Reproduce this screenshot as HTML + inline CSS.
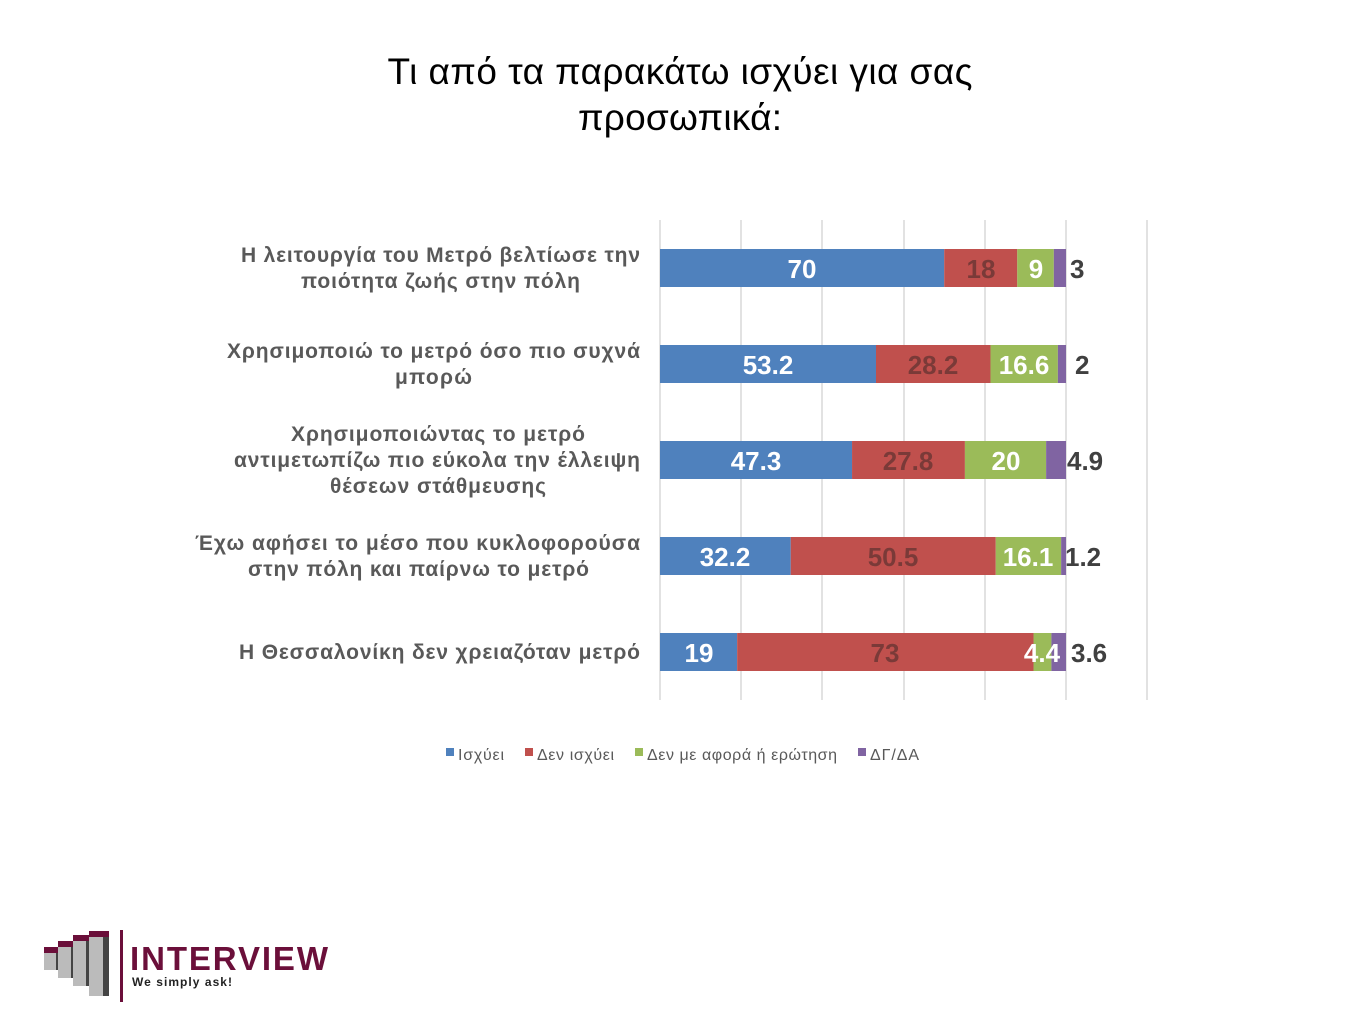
<!DOCTYPE html>
<html><head><meta charset="utf-8"><style>
body{margin:0;background:#fff;}
svg text{font-family:"Liberation Sans",sans-serif;}
</style></head><body>
<svg width="1360" height="1020" xmlns="http://www.w3.org/2000/svg">
<rect width="1360" height="1020" fill="#fff"/>
<text x="680" y="84" font-size="37" text-anchor="middle" fill="#000" textLength="585">Τι από τα παρακάτω ισχύει για σας</text>
<text x="680" y="130" font-size="37" text-anchor="middle" fill="#000" textLength="204">προσωπικά:</text>
<g stroke="#d9d9d9" stroke-width="1.5">
<line x1="660" y1="220" x2="660" y2="700"/><line x1="741" y1="220" x2="741" y2="700"/><line x1="822" y1="220" x2="822" y2="700"/><line x1="904" y1="220" x2="904" y2="700"/><line x1="985" y1="220" x2="985" y2="700"/><line x1="1066" y1="220" x2="1066" y2="700"/><line x1="1147" y1="220" x2="1147" y2="700"/>
</g>
<g>
<rect x="660" y="249" width="284.2" height="38" fill="#4F81BD"/><rect x="944.2" y="249" width="73.08" height="38" fill="#C0504D"/><rect x="1017.28" y="249" width="36.54" height="38" fill="#9BBB59"/><rect x="1053.82" y="249" width="12.18" height="38" fill="#8064A2"/>
<rect x="660" y="345" width="215.99" height="38" fill="#4F81BD"/><rect x="875.99" y="345" width="114.49" height="38" fill="#C0504D"/><rect x="990.48" y="345" width="67.4" height="38" fill="#9BBB59"/><rect x="1057.88" y="345" width="8.12" height="38" fill="#8064A2"/>
<rect x="660" y="441" width="192.04" height="38" fill="#4F81BD"/><rect x="852.04" y="441" width="112.87" height="38" fill="#C0504D"/><rect x="964.91" y="441" width="81.2" height="38" fill="#9BBB59"/><rect x="1046.11" y="441" width="19.89" height="38" fill="#8064A2"/>
<rect x="660" y="537" width="130.73" height="38" fill="#4F81BD"/><rect x="790.73" y="537" width="205.03" height="38" fill="#C0504D"/><rect x="995.76" y="537" width="65.37" height="38" fill="#9BBB59"/><rect x="1061.13" y="537" width="4.87" height="38" fill="#8064A2"/>
<rect x="660" y="633" width="77.14" height="38" fill="#4F81BD"/><rect x="737.14" y="633" width="296.38" height="38" fill="#C0504D"/><rect x="1033.52" y="633" width="17.86" height="38" fill="#9BBB59"/><rect x="1051.38" y="633" width="14.62" height="38" fill="#8064A2"/>
</g>
<g font-size="26" font-weight="bold" text-anchor="middle">
<text x="802" y="278" fill="#fff">70</text><text x="981" y="278" fill="#7a3a38">18</text><text x="1036" y="278" fill="#fff">9</text>
<text x="768" y="374" fill="#fff">53.2</text><text x="933" y="374" fill="#7a3a38">28.2</text><text x="1024" y="374" fill="#fff">16.6</text>
<text x="756" y="470" fill="#fff">47.3</text><text x="908" y="470" fill="#7a3a38">27.8</text><text x="1006" y="470" fill="#fff">20</text>
<text x="725" y="566" fill="#fff">32.2</text><text x="893" y="566" fill="#7a3a38">50.5</text><text x="1028" y="566" fill="#fff">16.1</text>
<text x="699" y="662" fill="#fff">19</text><text x="885" y="662" fill="#7a3a38">73</text><text x="1042" y="662" fill="#fff">4.4</text>
</g>
<g font-size="26" font-weight="bold" fill="#404040">
<text x="1070" y="278">3</text><text x="1075" y="374">2</text><text x="1067" y="470">4.9</text><text x="1065" y="566">1.2</text><text x="1071" y="662">3.6</text>
</g>
<g font-size="21" font-weight="bold" fill="#595959" text-anchor="end">
<text x="640" y="262" textLength="399">Η λειτουργία του Μετρό βελτίωσε την</text>
<text x="580" y="288" textLength="279">ποιότητα ζωής στην πόλη</text>
<text x="640" y="358" textLength="413">Χρησιμοποιώ το μετρό όσο πιο συχνά</text>
<text x="472" y="384" textLength="77">μπορώ</text>
<text x="585" y="441" textLength="294">Χρησιμοποιώντας το μετρό</text>
<text x="640" y="467" textLength="406">αντιμετωπίζω πιο εύκολα την έλλειψη</text>
<text x="546" y="493" textLength="216">θέσεων στάθμευσης</text>
<text x="640" y="550" textLength="445">Έχω αφήσει το μέσο που κυκλοφορούσα</text>
<text x="589" y="576" textLength="341">στην πόλη και παίρνω το μετρό</text>
<text x="640" y="659" textLength="401">Η Θεσσαλονίκη δεν χρειαζόταν μετρό</text>
</g>
<g font-size="16" fill="#595959">
<rect x="446" y="748" width="8" height="8" fill="#4F81BD"/><text x="458" y="760" textLength="46">Ισχύει</text>
<rect x="525" y="748" width="8" height="8" fill="#C0504D"/><text x="537" y="760" textLength="77">Δεν ισχύει</text>
<rect x="635" y="748" width="8" height="8" fill="#9BBB59"/><text x="647" y="760" textLength="190">Δεν με αφορά ή ερώτηση</text>
<rect x="858" y="748" width="8" height="8" fill="#8064A2"/><text x="870" y="760" textLength="49">ΔΓ/ΔΑ</text>
</g>
<g>
<rect x="44" y="952" width="12" height="18" fill="#bbb"/><rect x="56" y="952" width="4" height="18" fill="#444"/><rect x="44" y="947" width="16" height="6" fill="#6b0f3a"/>
<rect x="58" y="946" width="13" height="32" fill="#bbb"/><rect x="71" y="946" width="4" height="32" fill="#444"/><rect x="58" y="941" width="17" height="6" fill="#6b0f3a"/>
<rect x="73" y="940" width="13" height="46" fill="#bbb"/><rect x="86" y="940" width="4" height="46" fill="#444"/><rect x="73" y="935" width="17" height="6" fill="#6b0f3a"/>
<rect x="89" y="936" width="14" height="60" fill="#bbb"/><rect x="103" y="936" width="6" height="60" fill="#444"/><rect x="89" y="931" width="20" height="6" fill="#6b0f3a"/>
<rect x="120" y="930" width="3" height="72" fill="#6b0f3a"/>
<text x="130" y="970" font-size="33" font-weight="bold" fill="#6b0f3a" textLength="198">INTERVIEW</text>
<text x="132" y="986" font-size="12" font-weight="bold" fill="#222" textLength="100">We simply ask!</text>
</g>
</svg>
</body></html>
